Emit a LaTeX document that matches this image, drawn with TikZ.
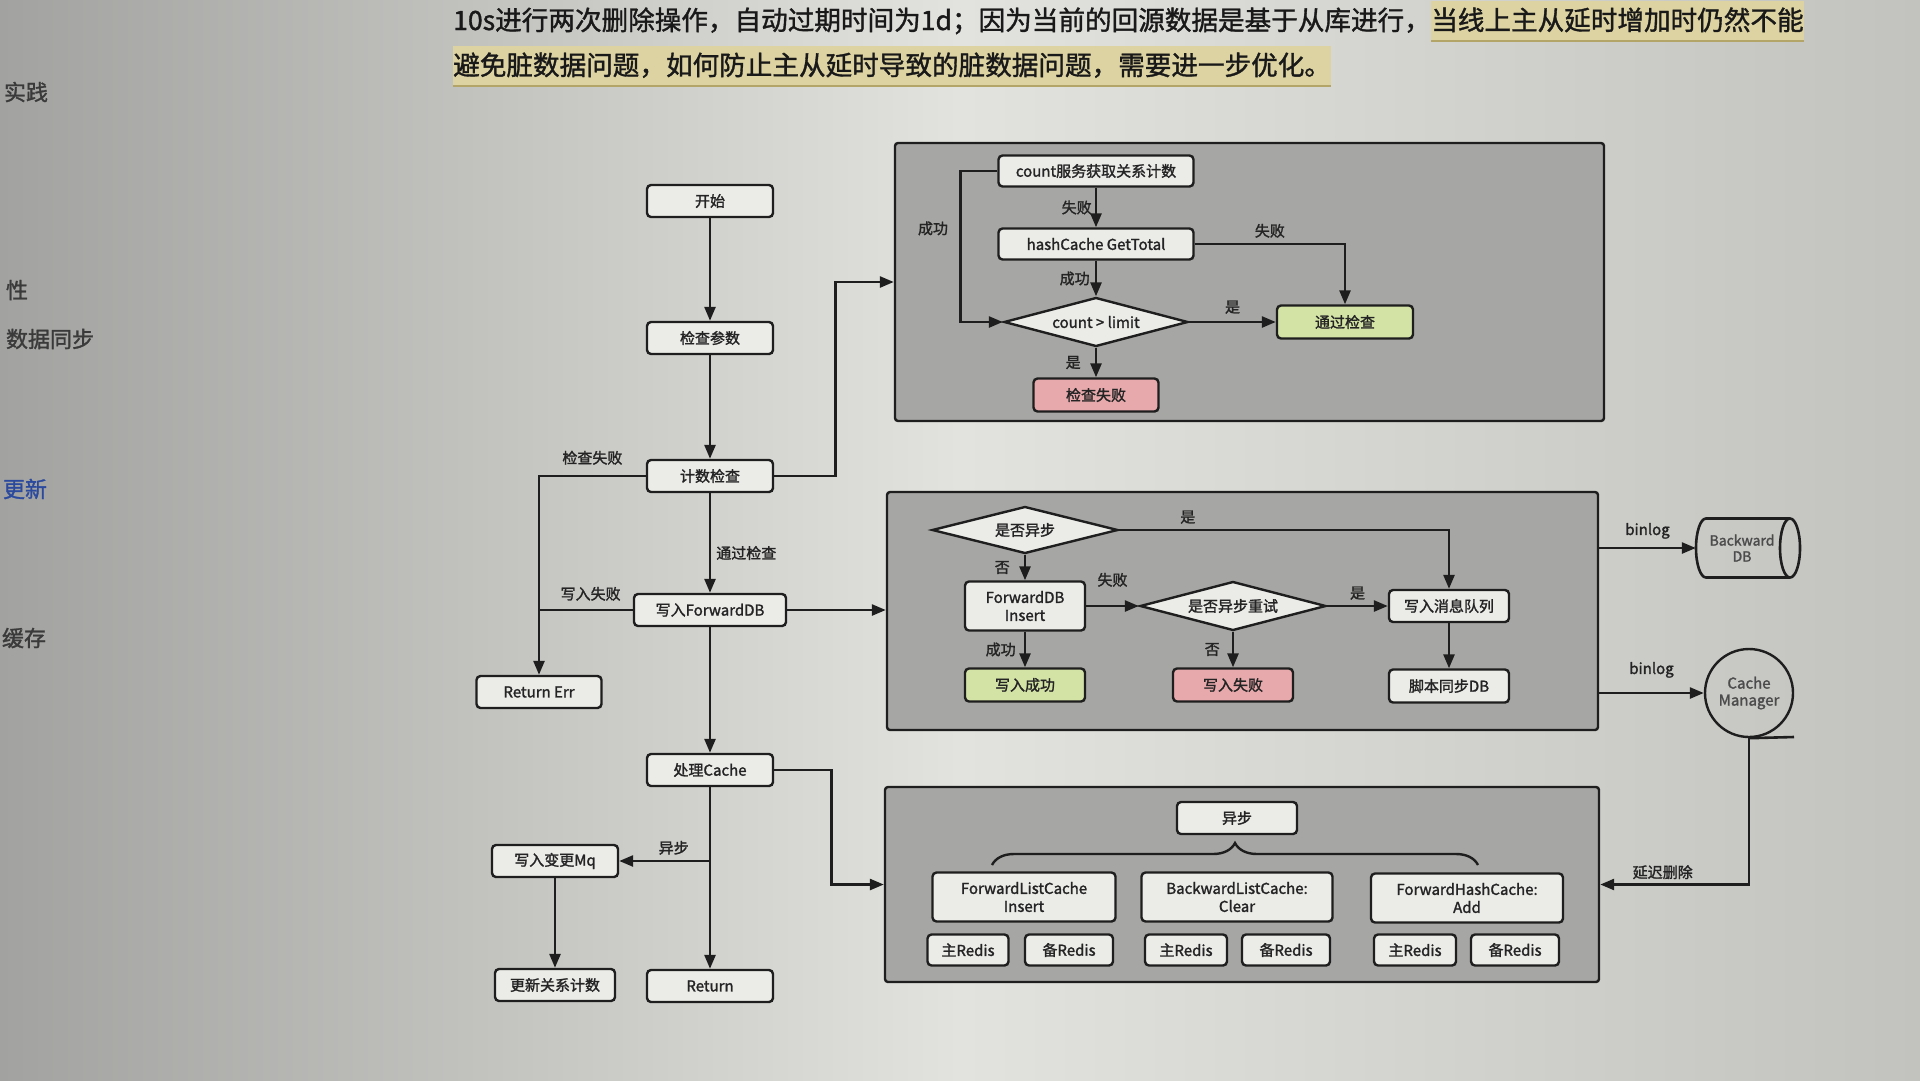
\documentclass[tikz,border=0pt]{standalone}
\usepackage{fontspec}
\setmainfont{Noto Sans CJK SC}
\newfontfamily\dfont[FakeBold=1.6]{Noto Sans CJK SC}
\newfontfamily\tfont[FakeBold=1.3]{Noto Sans CJK SC}
\usetikzlibrary{arrows.meta,shapes.geometric,decorations.pathreplacing}
\definecolor{bgl}{HTML}{A2A2A0}
\definecolor{bgm}{HTML}{E2E2DE}
\definecolor{bgr}{HTML}{C2C2BE}
\definecolor{lc}{HTML}{1E1E1E}
\definecolor{tc}{HTML}{242424}
\definecolor{nf}{HTML}{EBEBE8}
\definecolor{grayf}{HTML}{A6A6A4}
\definecolor{gf}{HTML}{D3E3A6}
\definecolor{pf}{HTML}{E7A9AC}
\definecolor{hlc}{HTML}{DCD2A2}
\definecolor{hld}{HTML}{B3A468}
\definecolor{sidec}{HTML}{3A3A3A}
\definecolor{sideb}{HTML}{2B4A9E}
\begin{document}
\begin{tikzpicture}[x=1pt,y=-1pt,
  ln/.style={draw=lc, line width=2.6pt},
  arr/.style={ln, -{Triangle[length=14pt,width=11pt]}},
  box/.style={draw=lc, line width=2.4pt, rounded corners=4pt, fill=nf,
    minimum width=126pt, minimum height=32pt, inner sep=2pt,
    font=\dfont\fontsize{15}{18}\selectfont, text=tc, align=center},
  dia/.style={diamond, draw=lc, line width=2.4pt, fill=nf, inner sep=0pt, aspect=3.8,
    font=\dfont\fontsize{15}{18}\selectfont, text=tc},
  grp/.style={draw=lc, line width=2.4pt, fill=grayf, rounded corners=3pt, inner sep=0pt},
  lbl/.style={font=\dfont\fontsize{15}{18}\selectfont, text=tc, inner sep=2pt},
  tline/.style={font=\tfont\fontsize{26.6}{30}\selectfont, text=black!90, inner xsep=0pt,
    inner ysep=6pt, text height=23pt, text depth=5pt, anchor=west},
  hl/.style={fill=hlc},
  hlline/.style={draw=hld, line width=2pt},
  side/.style={font=\tfont\fontsize{22}{24}\selectfont, text=sidec, inner sep=0pt},
  brc/.style={draw=lc, line width=2.4pt, decorate, decoration={brace, amplitude=22pt}}
]
\useasboundingbox (0,0) rectangle (1920,1080);
\shade[left color=bgl, right color=bgr, middle color=bgm] (0,0) rectangle (1920,1080);

% ---------- top paragraph ----------
\node[tline] (l1a) at (453,21) {10s进行两次删除操作，自动过期时间为1d；因为当前的回源数据是基于从库进行，};
\node[tline, hl] (l1b) at (l1a.east) {当线上主从延时增加时仍然不能};
\draw[hlline] (l1b.south west) -- (l1b.south east);
\node[tline, hl] (l2) at (453,66) {避免脏数据问题，如何防止主从延时导致的脏数据问题，需要进一步优化。};
\draw[hlline] (l2.south west) -- (l2.south east);

% ---------- sidebar ----------
\node[side] (s1) at (26,92) {实践};
\node[side] (s2) at (17,290) {性};
\node[side] (s3) at (50,339) {数据同步};
\node[side, text=sideb] (s4) at (25,489) {更新};
\node[side] (s5) at (24,638) {缓存};

% ---------- group boxes ----------
\node[grp, minimum width=709pt, minimum height=278pt] (g1) at (1249.5,282) {};
\node[grp, minimum width=711pt, minimum height=238pt] (g2) at (1242.5,611) {};
\node[grp, minimum width=714pt, minimum height=195pt] (g3) at (1242,884.5) {};

% ---------- main column ----------
\node[box] (start) at (710,201) {开始};
\node[box] (param) at (710,338) {检查参数};
\node[box] (cnt) at (710,476) {计数检查};
\node[box, minimum width=152pt] (wfdb) at (710,610) {写入ForwardDB};
\node[box, minimum width=125pt] (rerr) at (539,692) {Return Err};
\node[box] (cache) at (710,770) {处理Cache};
\node[box] (mq) at (555,861) {写入变更Mq};
\node[box, minimum width=120pt] (upd) at (555,985) {更新关系计数};
\node[box] (ret) at (710,986) {Return};

\draw[arr] (start) -- (param);
\draw[arr] (param) -- (cnt);
\draw[arr] (cnt) -- node[lbl, right=3pt, pos=0.6] {通过检查} (wfdb);
\draw[arr] (cnt.west) -| node[lbl, above=8pt, pos=0.25] {检查失败} (rerr.north);
\draw[ln] (wfdb.west) -- node[lbl, above=6pt, pos=0.45] {写入失败} (rerr.north |- wfdb.west);
\draw[arr] (wfdb) -- (cache);
\draw[arr] (cache) -- (ret);
\coordinate (asy) at (cache.south |- mq.east);
\draw[arr] (asy) -- node[lbl, above=3pt, pos=0.4] {异步} (mq.east);
\draw[arr] (mq) -- (upd);
\draw[arr] (cnt.east) -- ++(61,0) |- (g1.west);
\draw[arr] (wfdb.east) -- (wfdb.east -| g2.west);
\draw[arr] (cache.east) -- ++(57,0) |- (g3.west);

% ---------- top group ----------
\node[box, minimum width=195pt, minimum height=31pt] (cntsvc) at (1096,171) {count服务获取关系计数};
\node[box, minimum width=195pt, minimum height=31pt] (hash) at (1096,244) {hashCache GetTotal};
\node[dia, minimum width=184pt, minimum height=49pt] (d1) at (1096,322) {count > limit};
\node[box, fill=gf, minimum width=136pt, minimum height=33pt] (pass) at (1345,322) {通过检查};
\node[box, fill=pf, minimum width=125pt, minimum height=33pt] (cfail) at (1096,395) {检查失败};

\draw[arr] (cntsvc) -- node[lbl, left=1pt] {失败} (hash);
\draw[arr] (cntsvc.west) -- ++(-37,0) |- node[lbl, left=9pt, pos=0.19] {成功} (d1.west);
\draw[arr] (hash) -- node[lbl, left=3pt] {成功} (d1);
\draw[arr] (hash.east) -| node[lbl, above=3pt, pos=0.25] {失败} (pass.north);
\draw[arr] (d1.east) -- node[lbl, above=5pt] {是} (pass.west);
\draw[arr] (d1.south) -- node[lbl, left=12pt] {是} (cfail.north);

% ---------- middle group ----------
\node[dia, minimum width=186pt, minimum height=47pt] (d2) at (1025,530) {是否异步};
\node[box, minimum width=120pt, minimum height=49pt] (fdb) at (1025,606) {ForwardDB\\Insert};
\node[box, fill=gf, minimum width=120pt, minimum height=33pt] (ok) at (1025,685) {写入成功};
\node[dia, minimum width=186pt, minimum height=49pt] (d3) at (1233,606) {是否异步重试};
\node[box, fill=pf, minimum width=120pt, minimum height=33pt] (wfail) at (1233,685) {写入失败};
\node[box, minimum width=120pt, minimum height=32pt] (mq2) at (1449,606) {写入消息队列};
\node[box, minimum width=120pt, minimum height=33pt] (script) at (1449,686) {脚本同步DB};

\draw[arr] (d2.east) -| node[lbl, above=3pt, pos=0.104] {是} (mq2.north);
\draw[arr] (d2) -- node[lbl, left=12pt] {否} (fdb);
\draw[arr] (fdb) -- node[lbl, above=16pt] {失败} (d3);
\draw[arr] (fdb) -- node[lbl, left=6pt] {成功} (ok);
\draw[arr] (d3) -- node[lbl, above=3pt] {是} (mq2);
\draw[arr] (d3) -- node[lbl, left=10pt] {否} (wfail);
\draw[arr] (mq2) -- (script);

% ---------- bottom group ----------
\node[box, minimum width=120pt, minimum height=32pt] (async) at (1237,818) {异步};
\draw[brc] (992,865) -- (1478,865);
\node[box, minimum width=183pt, minimum height=49pt] (fl) at (1024,897) {ForwardListCache\\Insert};
\node[box, minimum width=191pt, minimum height=49pt] (bl) at (1237,897) {BackwardListCache:\\Clear};
\node[box, minimum width=192pt, minimum height=49pt] (fh) at (1467,898) {ForwardHashCache:\\Add};
\node[box, minimum width=81pt, minimum height=31pt] (r1) at (968,950) {主Redis};
\node[box, minimum width=88pt, minimum height=31pt] (r2) at (1069,950) {备Redis};
\node[box, minimum width=82pt, minimum height=31pt] (r3) at (1186,950) {主Redis};
\node[box, minimum width=88pt, minimum height=31pt] (r4) at (1286,950) {备Redis};
\node[box, minimum width=82pt, minimum height=31pt] (r5) at (1415,950) {主Redis};
\node[box, minimum width=88pt, minimum height=31pt] (r6) at (1515,950) {备Redis};

% ---------- right side ----------
\node[minimum width=92pt, minimum height=59pt, inner sep=0pt, align=center,
  font=\dfont\fontsize{14}{16}\selectfont, text=black!70] (bdb) at (1742,548) {Backward\\DB};
\draw[ln] (1790,518.5) -- (1706,518.5) arc[start angle=270, end angle=90, x radius=10, y radius=29.5] -- (1790,577.5);
\draw[ln] (1790,548) ellipse [x radius=10, y radius=29.5];
\node[circle, draw=lc, line width=2.4pt, minimum size=88pt, inner sep=0pt, align=center,
  font=\dfont\fontsize{15}{17}\selectfont, text=black!70] (cm) at (1749,693) {Cache\\Manager};
\coordinate (cmtail) at (1794,737);
\draw[ln] (cm.south) -- (cmtail);
\draw[arr] (g2.east |- bdb.west) -- node[lbl, above=6pt] {binlog} (bdb.west);
\draw[arr] (g2.east |- cm.west) -- node[lbl, above=12pt] {binlog} (cm.west);
\draw[arr] (cm.south) |- node[lbl, above=2pt, pos=0.79] {延迟删除} (g3.east);
\end{tikzpicture}
\end{document}
